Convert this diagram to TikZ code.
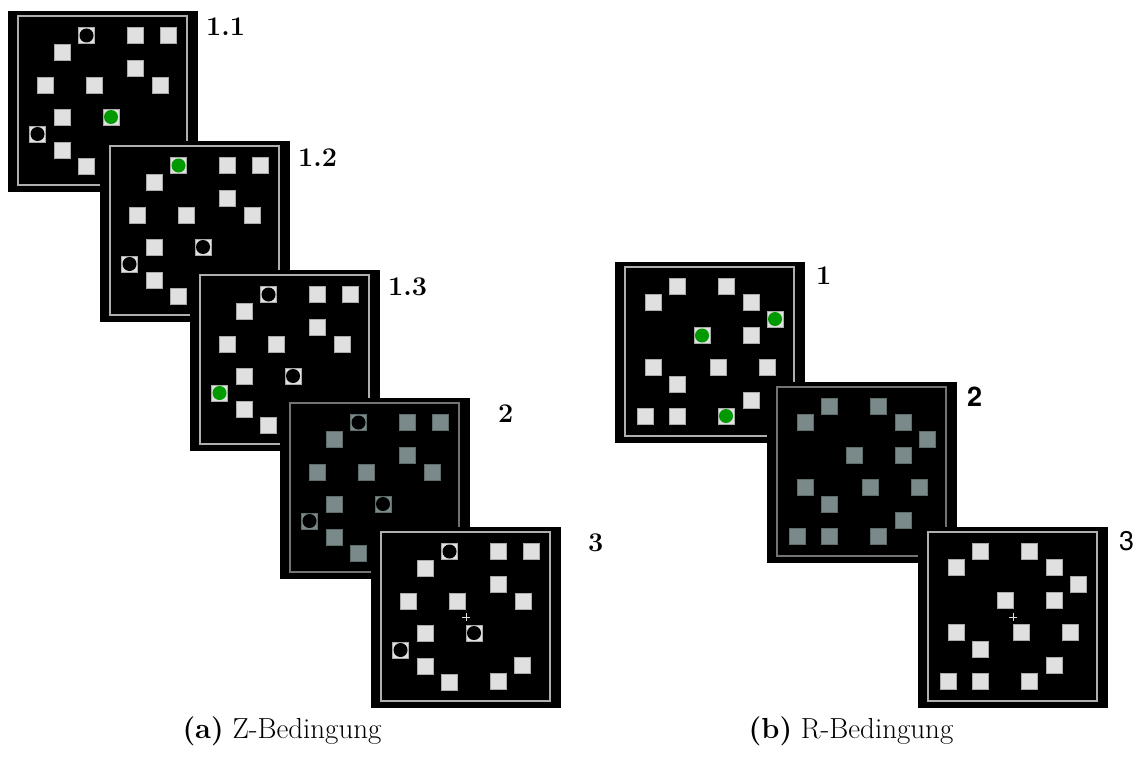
\documentclass[tikz,border=0pt]{standalone}
\usepackage{fontspec}
\newfontfamily\heros{TeX Gyre Heros}
\usetikzlibrary{positioning}
\definecolor{SteinHell}{RGB}{224,224,224}
\definecolor{SteinHellRand}{RGB}{170,170,170}
\definecolor{SteinGrau}{RGB}{122,138,138}
\definecolor{SteinGrauRand}{RGB}{95,108,108}
\definecolor{ZielGruen}{RGB}{0,153,0}
\definecolor{RahmenHell}{RGB}{175,175,175}
\definecolor{RahmenDunkel}{RGB}{115,115,115}
\tikzset{
  feld/.style={fill=black},
  rahmen/.style={line width=1.3pt},
  stein/.style={line width=0.6pt},
  kreuz/.style={draw=SteinHell, line width=0.7pt},
  nummer/.style={font=\fontsize{27}{30}\selectfont\bfseries, anchor=base west, inner sep=0pt},
  unterschrift/.style={font=\fontsize{29}{32}\selectfont, anchor=base, inner sep=0pt},
}
% Reizpositionen (Mittelpunkte relativ zur linken oberen Rahmenecke)
\def\lageZ{68.5/19.5, 117.5/19.5, 150/19.5, 44/36, 117.5/52, 27.5/69, 76.5/69,
  142/69, 44/101, 93/101, 19.5/118, 44/134, 141/133, 68/150, 117/149}
\def\lageR{52/19, 101/19, 28/35, 126/35, 150/52, 77/68.5, 126/68.5, 28/100,
  93/100, 142/100, 52/117, 126/133, 20/149, 52/149, 101/149}
% Bildschirm: #1 Steinfarbe, #2 Rahmenfarbe, #3 Positionen
\newcommand{\tafel}[3]{%
  \fill[feld] (-10,-5) rectangle (180,176);
  \draw[rahmen, draw=#2] (0,0) rectangle (169,169);
  \foreach \sx/\sy in #3
    \draw[stein, fill=#1, draw=#1Rand] (\sx-8,\sy-8) rectangle ++(16,16);
}
\newcommand{\ziel}[3]{\fill[#3] (#1,#2) circle (7);}
\newcommand{\fixkreuz}{\draw[kreuz] (81,85) -- (89,85) (85,81) -- (85,89);}

\begin{document}
\begin{tikzpicture}[x=1pt, y=-1pt]
  \useasboundingbox (0,0) rectangle (1137,760);

  % Z-Bedingung
  \begin{scope}[shift={(18,16)}]
    \tafel{SteinHell}{RahmenHell}{\lageZ}
    \ziel{68.5}{19.5}{black} \ziel{93}{101}{ZielGruen} \ziel{19.5}{118}{black}
  \end{scope}
  \begin{scope}[shift={(110,146)}]
    \tafel{SteinHell}{RahmenHell}{\lageZ}
    \ziel{68.5}{19.5}{ZielGruen} \ziel{93}{101}{black} \ziel{19.5}{118}{black}
  \end{scope}
  \begin{scope}[shift={(200,275)}]
    \tafel{SteinHell}{RahmenHell}{\lageZ}
    \ziel{68.5}{19.5}{black} \ziel{93}{101}{black} \ziel{19.5}{118}{ZielGruen}
  \end{scope}
  \begin{scope}[shift={(290,403)}]
    \tafel{SteinGrau}{RahmenDunkel}{\lageZ}
    \ziel{68.5}{19.5}{black} \ziel{93}{101}{black} \ziel{19.5}{118}{black}
  \end{scope}
  \begin{scope}[shift={(381,532)}]
    \tafel{SteinHell}{RahmenHell}{\lageZ}
    \ziel{68.5}{19.5}{black} \ziel{93}{101}{black} \ziel{19.5}{118}{black}
    \fixkreuz
  \end{scope}

  % R-Bedingung
  \begin{scope}[shift={(625,267)}]
    \tafel{SteinHell}{RahmenHell}{\lageR}
    \ziel{150}{52}{ZielGruen} \ziel{77}{68.5}{ZielGruen} \ziel{101}{149}{ZielGruen}
  \end{scope}
  \begin{scope}[shift={(777,387)}]
    \tafel{SteinGrau}{RahmenDunkel}{\lageR}
  \end{scope}
  \begin{scope}[shift={(928,532)}]
    \tafel{SteinHell}{RahmenHell}{\lageR}
    \fixkreuz
  \end{scope}

  % Nummern
  \node[nummer] (n11) at (206,36) {1.1};
  \node[nummer] (n12) at (298,166) {1.2};
  \node[nummer] (n13) at (388,295) {1.3};
  \node[nummer] (n2) at (498,422) {2};
  \node[nummer] (n3) at (588,551) {3};
  \node[nummer] (m1) at (816,284) {1};
  \node[nummer] (m2) at (967,406) {\heros 2};
  \node[nummer] (m3) at (1119,550) {\heros\mdseries 3};

  % Unterschriften
  \node[unterschrift] (ua) at (282,738) {\textbf{(a)} Z-Bedingung};
  \node[unterschrift] (ub) at (851,738) {\textbf{(b)} R-Bedingung};
\end{tikzpicture}
\end{document}
